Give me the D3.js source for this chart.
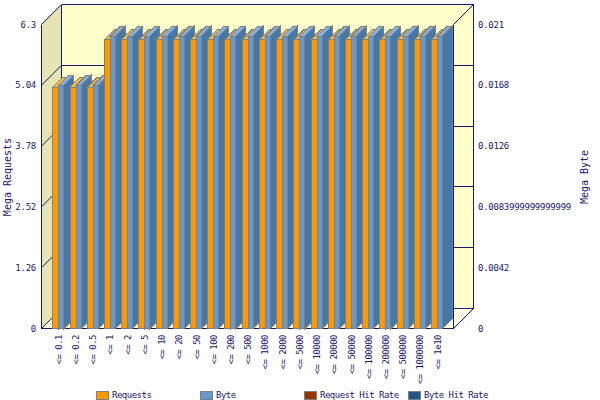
<!DOCTYPE html>
<html>
<head>
<meta charset="utf-8">
<script src="https://cdn.jsdelivr.net/npm/d3@7"></script>
<style>
  html, body { margin: 0; padding: 0; background: #fff; }
  text { font-family: "DejaVu Sans Mono", monospace; font-size: 9px; letter-spacing: -0.25px; fill: #191970; }
  text.title { font-size: 10px; letter-spacing: 0; }
  text.tight { letter-spacing: -0.5px; }
</style>
</head>
<body>
<svg class="chart" width="600" height="400"></svg>
<script>
const categories = ['<= 0.1', '<= 0.2', '<= 0.5', '<= 1', '<= 2', '<= 5', '<= 10', '<= 20', '<= 50',
  '<= 100', '<= 200', '<= 500', '<= 1000', '<= 2000', '<= 5000', '<= 10000', '<= 20000', '<= 50000',
  '<= 100000', '<= 200000', '<= 500000', '<= 1000000', '<= 1e10'];
const requests = [5.0, 5.0, 5.0, 5.99, 5.99, 5.99, 5.99, 5.99, 5.99, 5.99, 5.99, 5.99,
  5.99, 5.99, 5.99, 5.99, 5.99, 5.99, 5.99, 5.99, 5.99, 5.99, 5.99];
const bytes = [0.0168, 0.0168, 0.0168, 0.0202, 0.0202, 0.0202, 0.0202, 0.0202, 0.0202, 0.0202, 0.0202, 0.0202,
  0.0202, 0.0202, 0.0202, 0.0202, 0.0202, 0.0202, 0.0202, 0.0202, 0.0202, 0.0202, 0.0202];
const leftTicks = [0, 1.26, 2.52, 3.78, 5.04, 6.3];
const rightTicks = [0, 0.0042, 0.0084, 0.0126, 0.0168, 0.021];
const rightLabels = ['0', '0.0042', '0.0083999999999999', '0.0126', '0.0168', '0.021'];
const legendNames = ['Requests', 'Byte', 'Request Hit Rate', 'Byte Hit Rate'];
const legendColors = ['#ff9900', '#6699cc', '#993300', '#225588'];

const navy = '#191970';
const plotLeft = 41.5;
const plotRight = 453.5;
const plotTop = 24.5;
const plotBottom = 328.5;
const wallDepth = 20;
const barDepth = 10;

const svg = d3.select('.chart');

const x = d3.scaleBand()
    .domain(categories)
    .range([50.2, 446.2]);

const yLeft = d3.scaleLinear()
    .domain([0, 6.3])
    .range([plotBottom, plotTop]);

const yRight = d3.scaleLinear()
    .domain([0, 0.021])
    .range([plotBottom, plotTop]);

const poly = (pts, fill, stroke) => {
  return svg.append('polygon')
      .attr('points', pts.map((p) => p.join(',')).join(' '))
      .attr('fill', fill)
      .attr('stroke', stroke || 'none')
      .attr('shape-rendering', 'crispEdges');
};

const seg = (x1, y1, x2, y2, crisp) => {
  return svg.append('line')
      .attr('x1', x1).attr('y1', y1).attr('x2', x2).attr('y2', y2)
      .attr('stroke', navy)
      .attr('shape-rendering', crisp === false ? 'auto' : 'crispEdges');
};

// walls
const d = wallDepth;
poly([[plotLeft + d, plotTop - d], [plotRight + d, plotTop - d], [plotRight + d, plotBottom - d], [plotLeft + d, plotBottom - d]], '#ffffcc');
poly([[plotLeft, plotTop], [plotLeft + d, plotTop - d], [plotLeft + d, plotBottom - d], [plotLeft, plotBottom]], '#e5e5b3');
poly([[plotLeft, plotBottom], [plotRight, plotBottom], [plotRight + d, plotBottom - d], [plotLeft + d, plotBottom - d]], '#ffffe5');

// grid lines
leftTicks.forEach((t) => {
  const yy = yLeft(t);
  seg(plotLeft, yy, plotLeft + d, yy - d, false);
  seg(plotLeft + d, yy - d, plotRight + d, yy - d);
});

// frame
seg(plotLeft, plotTop, plotLeft, plotBottom);
seg(plotLeft + d, plotTop - d, plotLeft + d, plotBottom - d);
seg(plotRight + d, plotTop - d, plotRight + d, plotBottom - d);
seg(plotRight, plotTop, plotRight, plotBottom);
seg(plotRight, plotTop, plotRight + d, plotTop - d, false);
seg(plotRight, plotBottom, plotRight + d, plotBottom - d, false);
seg(plotLeft, plotBottom, plotRight, plotBottom);

// bars
const drawBar = (x0, w, yTop, front, topFill, side) => {
  const b = barDepth;
  poly([[x0 + w, yTop], [x0 + w + b, yTop - b], [x0 + w + b, plotBottom - b], [x0 + w, plotBottom]], side, '#808080');
  poly([[x0, yTop], [x0 + b, yTop - b], [x0 + w + b, yTop - b], [x0 + w, yTop]], topFill, '#808080');
  svg.append('rect')
      .attr('x', x0).attr('y', yTop)
      .attr('width', w).attr('height', plotBottom - yTop)
      .attr('fill', front).attr('stroke', '#808080')
      .attr('shape-rendering', 'crispEdges');
};

categories.forEach((c, i) => {
  const mid = x(c) + x.bandwidth() / 2;
  drawBar(mid - 6, 6, yLeft(requests[i]), '#ff9900', '#ffbb33', '#cc7a00');
  drawBar(mid, 5, yRight(bytes[i]), '#6699cc', '#88b0e0', '#4477aa');
});

// axis labels
svg.append('g').selectAll('text')
    .data(leftTicks)
  .enter().append('text')
    .attr('x', 36)
    .attr('y', (t) => yLeft(t) + 3)
    .attr('text-anchor', 'end')
    .text((t) => t);

svg.append('g').selectAll('text')
    .data(rightTicks)
  .enter().append('text')
    .attr('x', 478)
    .attr('y', (t) => yRight(t) + 3)
    .text((t, i) => rightLabels[i]);

svg.append('g').selectAll('text')
    .data(categories)
  .enter().append('text')
    .attr('class', 'tight')
    .attr('transform', (c) => `translate(${x(c) + x.bandwidth() / 2 + 3},335) rotate(-90)`)
    .attr('text-anchor', 'end')
    .text((c) => c);

svg.append('text')
    .attr('class', 'title')
    .attr('transform', 'translate(11,177) rotate(-90)')
    .attr('text-anchor', 'middle')
    .text('Mega Requests');

svg.append('text')
    .attr('class', 'title')
    .attr('transform', 'translate(588,177) rotate(-90)')
    .attr('text-anchor', 'middle')
    .text('Mega Byte');

// legend
const legendX = d3.scalePoint()
    .domain(legendNames)
    .range([96, 408]);

legendNames.forEach((name, i) => {
  const lx = legendX(name);
  svg.append('rect')
      .attr('x', lx + 0.5).attr('y', 391.5)
      .attr('width', 12).attr('height', 8)
      .attr('fill', legendColors[i])
      .attr('stroke', '#808080');
  svg.append('text')
      .attr('class', 'tight')
      .attr('x', lx + 16)
      .attr('y', 398)
      .text(name);
});
</script>
</body>
</html>
